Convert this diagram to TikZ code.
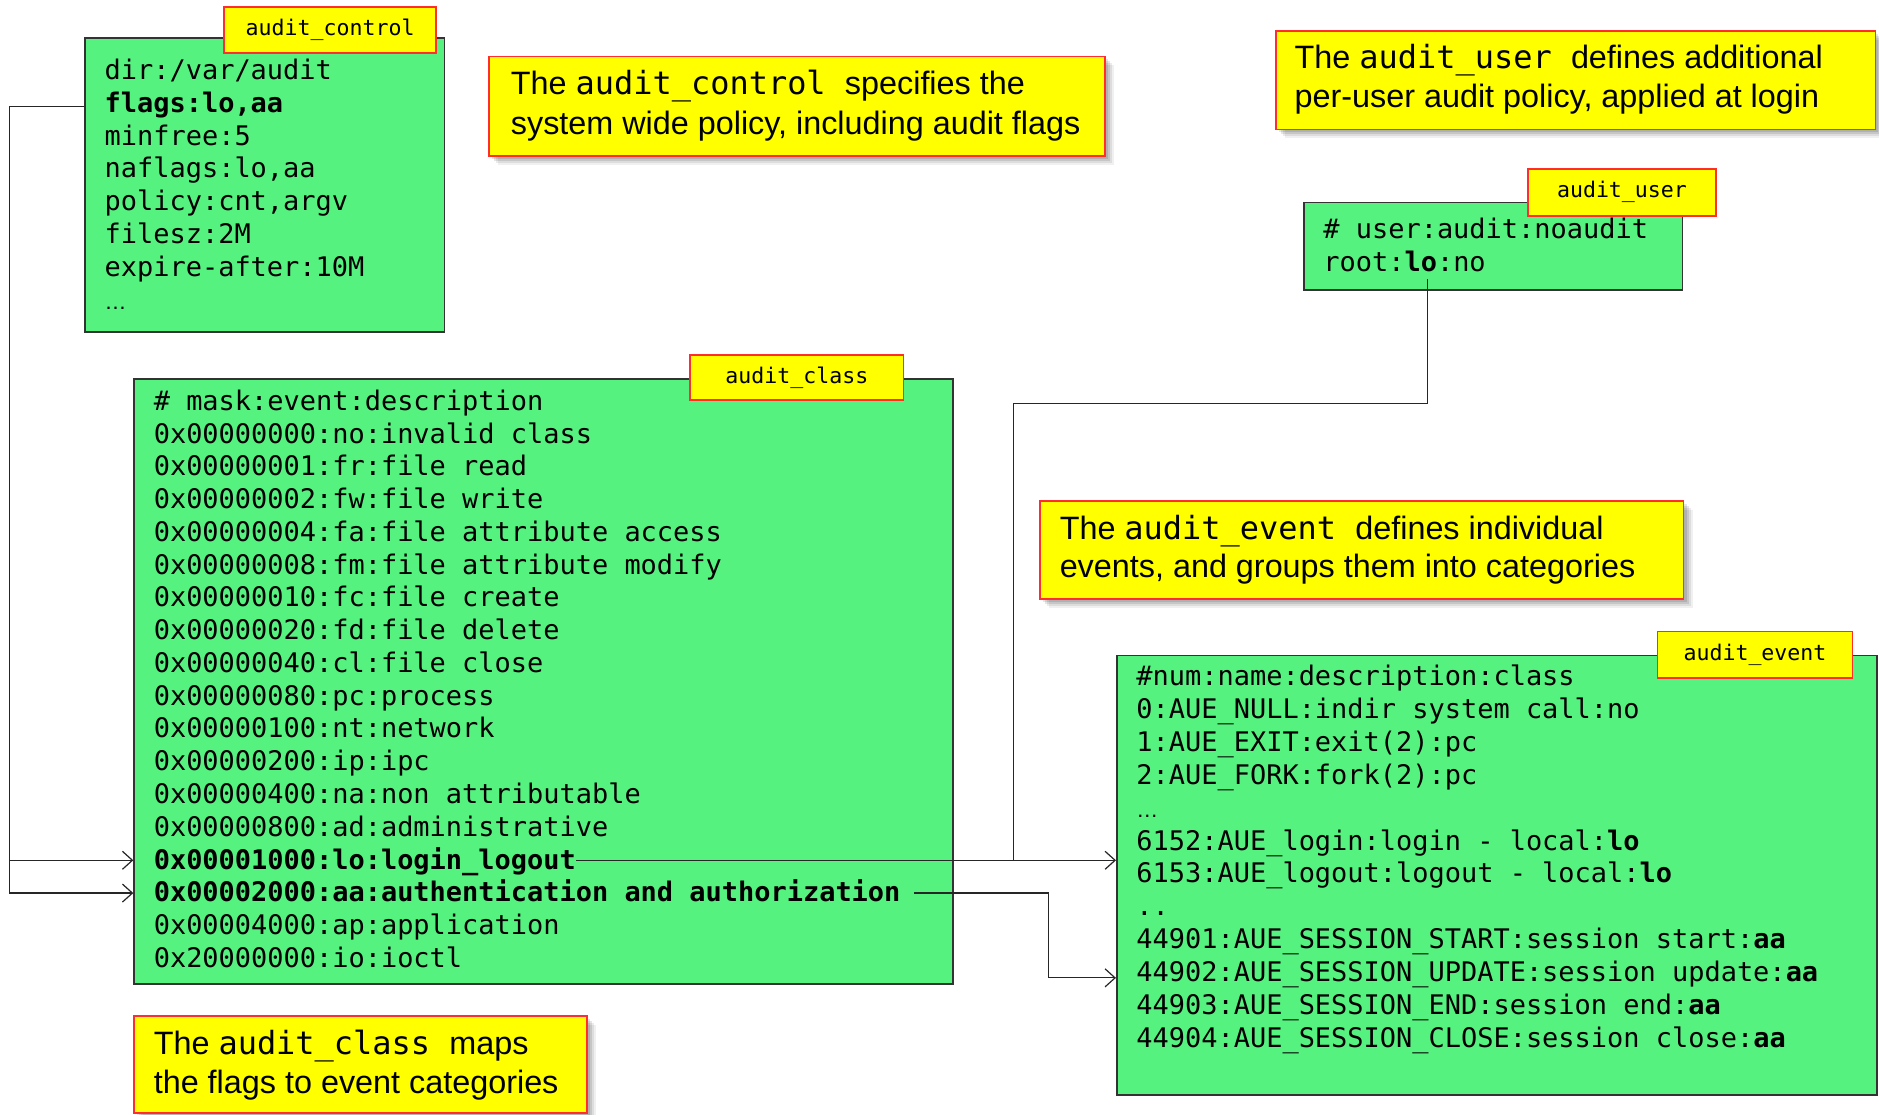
\documentclass[tikz,border=0pt]{standalone}
\usepackage{fontspec}
\setmainfont{Liberation Sans}
\setmonofont{DejaVu Sans Mono}
\usetikzlibrary{arrows.meta,fit,shadows,calc}
\definecolor{boxgreen}{RGB}{86,242,128}
\definecolor{noteyellow}{RGB}{255,255,0}
\definecolor{notered}{RGB}{255,45,45}
\newcommand\cmono[1]{{\ttfamily\fontsize{16}{19.8}\selectfont #1}}
\newcommand\smalldots{{\rmfamily\fontsize{11}{11}\selectfont …}}
\begin{document}
\begin{tikzpicture}[x=0.6pt,y=-0.6pt,
  greenbox/.style={draw=black!80, line width=0.9pt, fill=boxgreen, inner sep=0pt},
  tab/.style={draw=notered, line width=0.8pt, fill=noteyellow, inner sep=0pt,
    font=\ttfamily\fontsize{10.8}{13}\selectfont},
  note/.style={draw=notered, line width=0.8pt, fill=noteyellow, inner sep=0pt,
    general shadow={shadow xshift=1.5pt, shadow yshift=-1.5pt, opacity=0.10, fill=black},
    general shadow={shadow xshift=2.5pt, shadow yshift=-2.5pt, opacity=0.10, fill=black},
    general shadow={shadow xshift=3.5pt, shadow yshift=-3.5pt, opacity=0.08, fill=black},
    general shadow={shadow xshift=4.5pt, shadow yshift=-4.5pt, opacity=0.06, fill=black}},
  notetext/.style={anchor=west, inner sep=0pt, font=\fontsize{16.2}{19.8}\selectfont,
    text height=12pt, text depth=2.6pt},
  codeline/.style={anchor=west, inner sep=0pt, font=\ttfamily\fontsize{13.5}{16.4}\selectfont,
    text height=11pt, text depth=2.2pt},
  conn/.style={draw=black!85, line width=0.6pt},
  arr/.style={-{Straight Barb[length=5pt,width=9pt]}},
]
\useasboundingbox (0,0) rectangle (1568,930);
\fill[white] (0,0) rectangle (1568,930);

% ---------- audit_control ----------
\node[greenbox, fit={(71,32) (371,277)}] (ctrl) {};
\foreach \t [count=\i from 0] in {{dir:/var/audit},{\textbf{flags:lo,aa}},{minfree:5},{naflags:lo,aa},{policy:cnt,argv},{filesz:2M},{expire-after:10M},{\smalldots}}
  \node[codeline] (ctl\i) at (87, 59+27.4*\i) {\t};
\node[tab, minimum width=106.2pt, minimum height=22.8pt] (ctrltab) at (275.5,25) {audit\_control};

% ---------- audit_user ----------
\node[greenbox, fit={(1088,169) (1404,242)}] (usr) {};
\node[codeline] (usr0) at (1104,192) {\# user:audit:noaudit};
\node[codeline] (usr1) at (1104,219) {root:\textbf{lo}:no};
\node[tab, minimum width=94.2pt, minimum height=23.4pt] (usrtab) at (1353.5,160.5) {audit\_user};

% ---------- audit_class ----------
\node[greenbox, fit={(112,316) (795,821)}] (cls) {};
\foreach \t [count=\i from 0] in {
  {\# mask:event:description},
  {0x00000000:no:invalid class},
  {0x00000001:fr:file read},
  {0x00000002:fw:file write},
  {0x00000004:fa:file attribute access},
  {0x00000008:fm:file attribute modify},
  {0x00000010:fc:file create},
  {0x00000020:fd:file delete},
  {0x00000040:cl:file close},
  {0x00000080:pc:process},
  {0x00000100:nt:network},
  {0x00000200:ip:ipc},
  {0x00000400:na:non attributable},
  {0x00000800:ad:administrative},
  {\textbf{0x00001000:lo:login\_logout}},
  {\textbf{0x00002000:aa:authentication and authorization}},
  {0x00004000:ap:application},
  {0x20000000:io:ioctl}}
  \node[codeline] (cls\i) at (128, 335+27.35*\i) {\t};
\node[tab, minimum width=106.8pt, minimum height=22.8pt] (clstab) at (665,315) {audit\_class};

% ---------- audit_event ----------
\node[greenbox, fit={(932,547) (1566,914)}] (ev) {};
\foreach \t [count=\i from 0] in {
  {\#num:name:description:class},
  {0:AUE\_NULL:indir system call:no},
  {1:AUE\_EXIT:exit(2):pc},
  {2:AUE\_FORK:fork(2):pc},
  {\smalldots},
  {6152:AUE\_login:login - local:\textbf{lo}},
  {6153:AUE\_logout:logout - local:\textbf{lo}},
  {..},
  {44901:AUE\_SESSION\_START:session start:\textbf{aa}},
  {44902:AUE\_SESSION\_UPDATE:session update:\textbf{aa}},
  {44903:AUE\_SESSION\_END:session end:\textbf{aa}},
  {44904:AUE\_SESSION\_CLOSE:session close:\textbf{aa}}}
  \node[codeline] (ev\i) at (948, 565+27.4*\i) {\t};
\node[tab, minimum width=97.8pt, minimum height=23.4pt] (evtab) at (1464.5,546.5) {audit\_event};

% ---------- callouts ----------
\node[note, fit={(408,47) (922,130)}] (n1) {};
\node[notetext] (n1a) at (426,71) {The \cmono{audit\_control }specifies the};
\node[notetext] (n1b) at (426,104) {system wide policy, including audit flags};

\node[note, fit={(1065,26) (1565,108)}] (n2) {};
\node[notetext] (n2a) at (1080,49) {The \cmono{audit\_user }defines additional};
\node[notetext] (n2b) at (1080,82) {per-user audit policy, applied at login};

\node[note, fit={(868,418) (1405,500)}] (n3) {};
\node[notetext] (n3a) at (884,442) {The \cmono{audit\_event }defines individual};
\node[notetext] (n3b) at (884,474) {events, and groups them into categories};

\node[note, fit={(112,848) (490,929)}] (n4) {};
\node[notetext] (n4a) at (128,872) {The \cmono{audit\_class }maps};
\node[notetext] (n4b) at (128,905) {the flags to event categories};

% ---------- connectors ----------
\coordinate (railx) at (8,89);
\draw[conn,arr] (ctrl.west |- railx) -- (railx) |- (cls.west |- cls15);
\draw[conn,arr] (railx |- cls14) -- (cls.west |- cls14);

\draw[conn,arr] (cls14.east) -- (ev.west |- cls14);
\coordinate (lo) at (1191,233);
\coordinate (ujoin) at (846,337);
\draw[conn] (lo) |- (ujoin) -- (ujoin |- cls14);

\coordinate (aabend) at (875,816);
\draw[conn,arr] ([xshift=6.6pt]cls15.east) -| (aabend) -- (ev.west |- aabend);
\end{tikzpicture}
\end{document}
